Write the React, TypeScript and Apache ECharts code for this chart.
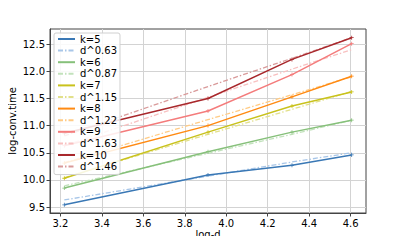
import React, { useEffect, useRef } from "react";
import * as echarts from "echarts";

const logD = [3.219, 3.912, 4.317, 4.605];

const k5 = [9.54, 10.09, 10.27, 10.46];
const fit063 = [9.63, 10.07, 10.33, 10.5];
const k6 = [9.85, 10.52, 10.88, 11.1];
const fit087 = [9.89, 10.49, 10.84, 11.1];
const k7 = [10.03, 10.88, 11.36, 11.62];
const fit115 = [10.04, 10.84, 11.3, 11.63];
const k8 = [10.31, 11.0, 11.53, 11.91];
const fit122 = [10.32, 11.11, 11.57, 11.9];
const k9 = [10.63, 11.27, 11.94, 12.51];
const fit163 = [10.63, 11.52, 12.04, 12.4];
const k10 = [10.86, 11.5, 12.22, 12.62];
const fit146 = [10.81, 11.72, 12.24, 12.62];

const xTicks = [3.2, 3.4, 3.6, 3.8, 4.0, 4.2, 4.4, 4.6];
const yTicks = [9.5, 10.0, 10.5, 11.0, 11.5, 12.0, 12.5];

const seriesDefs = [
  { name: "k=5", data: k5, color: "#3a78b5", dashed: false },
  { name: "d^0.63", data: fit063, color: "#a8c6e8", dashed: true },
  { name: "k=6", data: k6, color: "#86c07a", dashed: false },
  { name: "d^0.87", data: fit087, color: "#c2e2bc", dashed: true },
  { name: "k=7", data: k7, color: "#c9c21c", dashed: false },
  { name: "d^1.15", data: fit115, color: "#e2e08a", dashed: true },
  { name: "k=8", data: k8, color: "#ff8a12", dashed: false },
  { name: "d^1.22", data: fit122, color: "#ffcb85", dashed: true },
  { name: "k=9", data: k9, color: "#f47c7c", dashed: false },
  { name: "d^1.63", data: fit163, color: "#f8c0c0", dashed: true },
  { name: "k=10", data: k10, color: "#a8282c", dashed: false },
  { name: "d^1.46", data: fit146, color: "#d99a9a", dashed: true },
];

const plus = "path://M4,0H6V4H10V6H6V10H4V6H0V4H4Z";

export default function App() {
  const ref = useRef<HTMLDivElement>(null);
  useEffect(() => {
    if (!ref.current) return;
    const chart = echarts.init(ref.current, null, { renderer: "svg" });
    const font = "DejaVu Sans";
    chart.setOption({
      animation: false,
      backgroundColor: "#ffffff",
      textStyle: { fontFamily: font },
      grid: {
        left: 50,
        right: 41,
        top: 29,
        bottom: 31,
        containLabel: false,
        outerBoundsMode: "none",
        show: true,
        borderColor: "#444",
        borderWidth: 1,
        backgroundColor: "transparent",
      },
      xAxis: {
        type: "value",
        min: 3.15,
        max: 4.674,
        name: "log-d",
        nameLocation: "middle",
        nameGap: 16,
        nameMoveOverlap: false,
        nameTextStyle: { fontSize: 10, color: "#000", fontFamily: font },
        axisLine: { show: true, lineStyle: { color: "#444" } },
        axisTick: {
          show: true,
          length: 3.5,
          customValues: xTicks,
          lineStyle: { color: "#444" },
        },
        axisLabel: {
          customValues: xTicks,
          fontSize: 10,
          color: "#000",
          fontFamily: font,
          margin: 5,
          formatter: (v: number) => v.toFixed(1),
        },
        splitLine: { show: true, lineStyle: { color: "#d3d3d3", width: 1 } },
      },
      yAxis: {
        type: "value",
        min: 9.39,
        max: 12.78,
        name: "log-conv.time",
        nameLocation: "middle",
        nameGap: 33,
        nameRotate: 90,
        nameMoveOverlap: false,
        nameTextStyle: { fontSize: 10, color: "#000", fontFamily: font },
        axisLine: { show: true, lineStyle: { color: "#444" } },
        axisTick: {
          show: true,
          length: 3.5,
          customValues: yTicks,
          lineStyle: { color: "#444" },
        },
        axisLabel: {
          customValues: yTicks,
          fontSize: 10,
          color: "#000",
          fontFamily: font,
          margin: 5,
          formatter: (v: number) => v.toFixed(1),
        },
        splitLine: { show: true, lineStyle: { color: "#d3d3d3", width: 1 } },
      },
      legend: {
        orient: "vertical",
        left: 54,
        top: 33,
        itemWidth: 17,
        itemHeight: 7,
        itemGap: 1.6,
        padding: [1, 3, 3, 3],
        backgroundColor: "rgba(255,255,255,0.85)",
        borderColor: "#d0d0d0",
        borderWidth: 1,
        borderRadius: 2,
        textStyle: { fontSize: 10, lineHeight: 10, color: "#000", fontFamily: font },
        itemStyle: { opacity: 0 },
        data: seriesDefs.map((s) => s.name),
      },
      series: seriesDefs.map((s) => ({
        name: s.name,
        type: "line",
        data: logD.map((x, j) => [x, s.data[j]]),
        color: s.color,
        z: s.dashed ? 2 : 3,
        symbol: s.dashed ? "none" : plus,
        symbolSize: 4,
        showSymbol: !s.dashed,
        lineStyle: {
          color: s.color,
          width: s.dashed ? 1.3 : 1.5,
          type: s.dashed ? [5, 2, 1.5, 2] : "solid",
        },
        itemStyle: { color: s.color },
        emphasis: { disabled: true },
      })),
    });
    return () => chart.dispose();
  }, []);
  return <div ref={ref} style={{ width: 407, height: 244, margin: -8 }} />;
}
